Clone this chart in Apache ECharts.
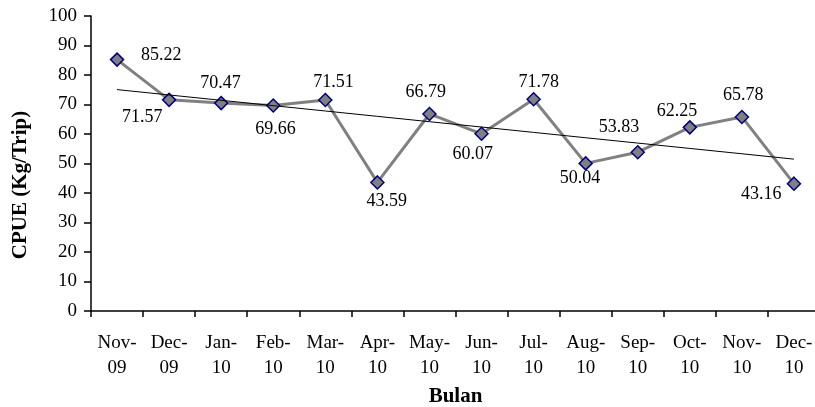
<!DOCTYPE html>
<html>
<head>
<meta charset="utf-8">
<script src="https://cdn.jsdelivr.net/npm/echarts@6/dist/echarts.min.js"></script>
<style>
html,body{margin:0;padding:0;background:#fff;}
#chart{width:815px;height:407px;}
</style>
</head>
<body>
<div id="chart"></div>
<script>
// Monthly CPUE, Nov 2009 - Dec 2010
const months = ['Nov-\n09','Dec-\n09','Jan-\n10','Feb-\n10','Mar-\n10','Apr-\n10','May-\n10','Jun-\n10','Jul-\n10','Aug-\n10','Sep-\n10','Oct-\n10','Nov-\n10','Dec-\n10'];
const cpue = [85.22, 71.57, 70.47, 69.66, 71.51, 43.59, 66.79, 60.07, 71.78, 50.04, 53.83, 62.25, 65.78, 43.16];
const yTicks = {min: 0, max: 100, interval: 10};

// value-label placement: pixel nudge of each label centre away from its marker
const labelNudge = [
  [45, -4], [-26, 18], [0, -19], [3, 25], [9, -17], [10, 20], [-3, -21],
  [-8, 21], [6, -16], [-5, 16], [-18, -24], [-12, -15], [2, -21], [-32, 11]
];
const markerSize = 13;

// least-squares linear trend over the month index
const n = cpue.length;
const xm = (n + 1) / 2;
const ym = cpue.reduce((a, b) => a + b, 0) / n;
let sxy = 0, sxx = 0;
cpue.forEach((v, i) => { const dx = (i + 1) - xm; sxy += dx * (v - ym); sxx += dx * dx; });
const slope = sxy / sxx;
const trend = cpue.map((v, i) => +(ym + slope * ((i + 1) - xm)).toFixed(3));

const font = 'Liberation Serif';
const chart = echarts.init(document.getElementById('chart'));

chart.setOption({
  backgroundColor: '#fff',
  animation: false,
  grid: {left: 91, top: 16, width: 729, height: 295, containLabel: false, outerBoundsMode: 'none'},
  xAxis: {
    type: 'category',
    data: months,
    boundaryGap: true,
    name: 'Bulan',
    nameLocation: 'middle',
    nameGap: 74,
    nameTextStyle: {fontFamily: font, fontSize: 21, fontWeight: 'bold', color: '#000'},
    axisLine: {lineStyle: {color: '#000', width: 1.5}},
    axisTick: {show: true, alignWithLabel: false, length: 6, lineStyle: {color: '#000', width: 1.5}},
    axisLabel: {fontFamily: font, fontSize: 19, color: '#000', margin: 20, lineHeight: 25, interval: 0}
  },
  yAxis: {
    type: 'value',
    min: yTicks.min, max: yTicks.max, interval: yTicks.interval,
    axisLine: {show: true, lineStyle: {color: '#000', width: 1.5}},
    axisTick: {show: true, length: 7, lineStyle: {color: '#000', width: 1.5}},
    splitLine: {show: false},
    axisLabel: {fontFamily: font, fontSize: 19, color: '#000', margin: 14}
  },
  graphic: [{
    type: 'text',
    x: 21, y: 185,
    rotation: Math.PI / 2,
    style: {text: 'CPUE (Kg/Trip)', fontFamily: font, fontSize: 21, fontWeight: 'bold', fill: '#000', textAlign: 'center', textVerticalAlign: 'middle'}
  }],
  series: [
    {
      type: 'line',
      data: trend,
      symbol: 'none',
      lineStyle: {color: '#000', width: 1},
      z: 3,
      silent: true
    },
    {
      type: 'line',
      data: cpue.map((v, i) => ({
        value: v,
        label: {
          show: true,
          position: [markerSize / 2 + labelNudge[i][0], markerSize / 2 + labelNudge[i][1]],
          align: 'center', verticalAlign: 'middle',
          color: '#000', fontFamily: font, fontSize: 18,
          formatter: p => p.value.toFixed(2)
        }
      })),
      symbol: 'diamond',
      symbolSize: markerSize,
      itemStyle: {color: '#808080', borderColor: '#000080', borderWidth: 1.5},
      lineStyle: {color: '#808080', width: 3},
      labelLayout: {hideOverlap: false},
      z: 2
    }
  ]
});
</script>
</body>
</html>
